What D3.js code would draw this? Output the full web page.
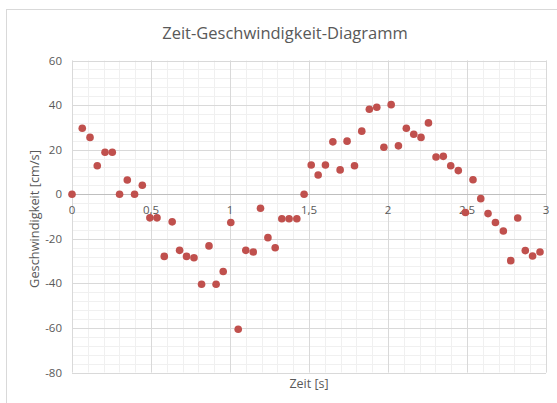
<!DOCTYPE html>
<html>
<head>
<meta charset="utf-8">
<script src="https://cdn.jsdelivr.net/npm/d3@7"></script>
<style>
  body { margin: 0; background: #ffffff; }
  svg text { font-family: "Open Sans", "Noto Sans", sans-serif; fill: #595959; }
</style>
</head>
<body>
<svg id="base" width="557" height="403"></svg>
<script>
// data
var zeit = [0, 0.065, 0.114, 0.16, 0.209, 0.255, 0.301, 0.35, 0.396, 0.445,
            0.493, 0.538, 0.584, 0.634, 0.681, 0.725, 0.772, 0.82, 0.867, 0.912,
            0.957, 1.005, 1.052, 1.1, 1.147, 1.193, 1.24, 1.286, 1.328, 1.374,
            1.423, 1.469, 1.514, 1.558, 1.604, 1.651, 1.697, 1.741, 1.788, 1.834,
            1.882, 1.929, 1.974, 2.02, 2.066, 2.116, 2.163, 2.209, 2.256, 2.304,
            2.35, 2.397, 2.445, 2.49, 2.538, 2.587, 2.633, 2.68, 2.73, 2.777,
            2.821, 2.869, 2.915, 2.962];
var geschw = [0, 29.6, 25.5, 12.8, 18.8, 18.8, 0, 6.4, 0, 4.0,
              -10.6, -10.6, -27.9, -12.4, -25.2, -27.9, -28.5, -40.4, -23.2, -40.4,
              -34.7, -12.7, -60.6, -25.2, -25.9, -6.3, -19.5, -24, -11, -11,
              -11, 0, 13.1, 8.6, 13.1, 23.5, 10.9, 23.8, 12.8, 28.3,
              38.1, 39, 21.1, 40.2, 21.7, 29.6, 26.9, 25.5, 32, 16.7,
              17, 12.8, 10.6, -8.2, 6.5, -2.0, -8.7, -12.7, -16.5, -29.8,
              -10.7, -25.3, -27.7, -25.9];
var xTicks = [0, 0.5, 1, 1.5, 2, 2.5, 3];
var yTicks = [-80, -60, -40, -20, 0, 20, 40, 60];

var titel = "Zeit-Geschwindigkeit-Diagramm";
var xTitel = "Zeit [s]";
var yTitel = "Geschwindigkeit [cm/s]";

var svg = d3.select('#base');

// chart border
svg.append('rect').attr('x', 6.5).attr('y', 9.5).attr('width', 560).attr('height', 400)
   .attr('fill', '#ffffff').attr('stroke', '#d9d9d9');

var x = d3.scaleLinear().domain([0, 3]).range([72, 546]);
var y = d3.scaleLinear().domain([-80, 60]).range([372.5, 60.5]);

// minor grid
var grid = svg.append('g');
grid.selectAll('.xmin').data(d3.range(0, 31).map(d => d / 10)).enter()
    .append('line').attr('x1', d => Math.round(x(d)) + 0.5).attr('x2', d => Math.round(x(d)) + 0.5)
    .attr('y1', y(60)).attr('y2', y(-80)).attr('stroke', '#f0f0f0');
grid.selectAll('.ymin').data(d3.range(-80, 61, 4)).enter()
    .append('line').attr('y1', d => Math.round(y(d)) + 0.5).attr('y2', d => Math.round(y(d)) + 0.5)
    .attr('x1', x(0)).attr('x2', x(3)).attr('stroke', '#f0f0f0');

// major grid
grid.selectAll('.xmaj').data(xTicks).enter()
    .append('line').attr('x1', d => Math.round(x(d)) + 0.5).attr('x2', d => Math.round(x(d)) + 0.5)
    .attr('y1', y(60)).attr('y2', y(-80)).attr('stroke', '#d9d9d9');
grid.selectAll('.ymaj').data(yTicks).enter()
    .append('line').attr('y1', d => Math.round(y(d)) + 0.5).attr('y2', d => Math.round(y(d)) + 0.5)
    .attr('x1', x(0)).attr('x2', x(3)).attr('stroke', '#d9d9d9');

// zero axis line
svg.append('line').attr('x1', x(0)).attr('x2', x(3))
   .attr('y1', Math.round(y(0)) + 0.5).attr('y2', Math.round(y(0)) + 0.5)
   .attr('stroke', '#bfbfbf');

// y tick labels
svg.selectAll('.ylab').data(yTicks).enter()
   .append('text').attr('x', 62).attr('y', d => y(d) + 4)
   .attr('text-anchor', 'end').style('font-size', '11.5px')
   .text(d => d);

// x tick labels (below the zero line, German comma)
var fmt = d => String(d).replace('.', ',');
svg.selectAll('.xlab').data(xTicks).enter()
   .append('text').attr('x', d => x(d)).attr('y', y(0) + 20)
   .attr('text-anchor', 'middle').style('font-size', '11.5px')
   .text(fmt);

// points
svg.selectAll('.pt').data(zeit).enter()
   .append('circle').attr('cx', (d) => x(d)).attr('cy', (d, i) => y(geschw[i]))
   .attr('r', 3.8).attr('fill', '#c0504d');

// titles
svg.append('text').attr('x', 285).attr('y', 39).attr('text-anchor', 'middle')
   .style('font-size', '16.5px').text(titel);
svg.append('text').attr('x', 309).attr('y', 388).attr('text-anchor', 'middle')
   .style('font-size', '12.5px').text(xTitel);
svg.append('text').attr('transform', 'translate(39,219) rotate(-90)').attr('text-anchor', 'middle')
   .style('font-size', '12.8px').text(yTitel);
</script>
</body>
</html>
